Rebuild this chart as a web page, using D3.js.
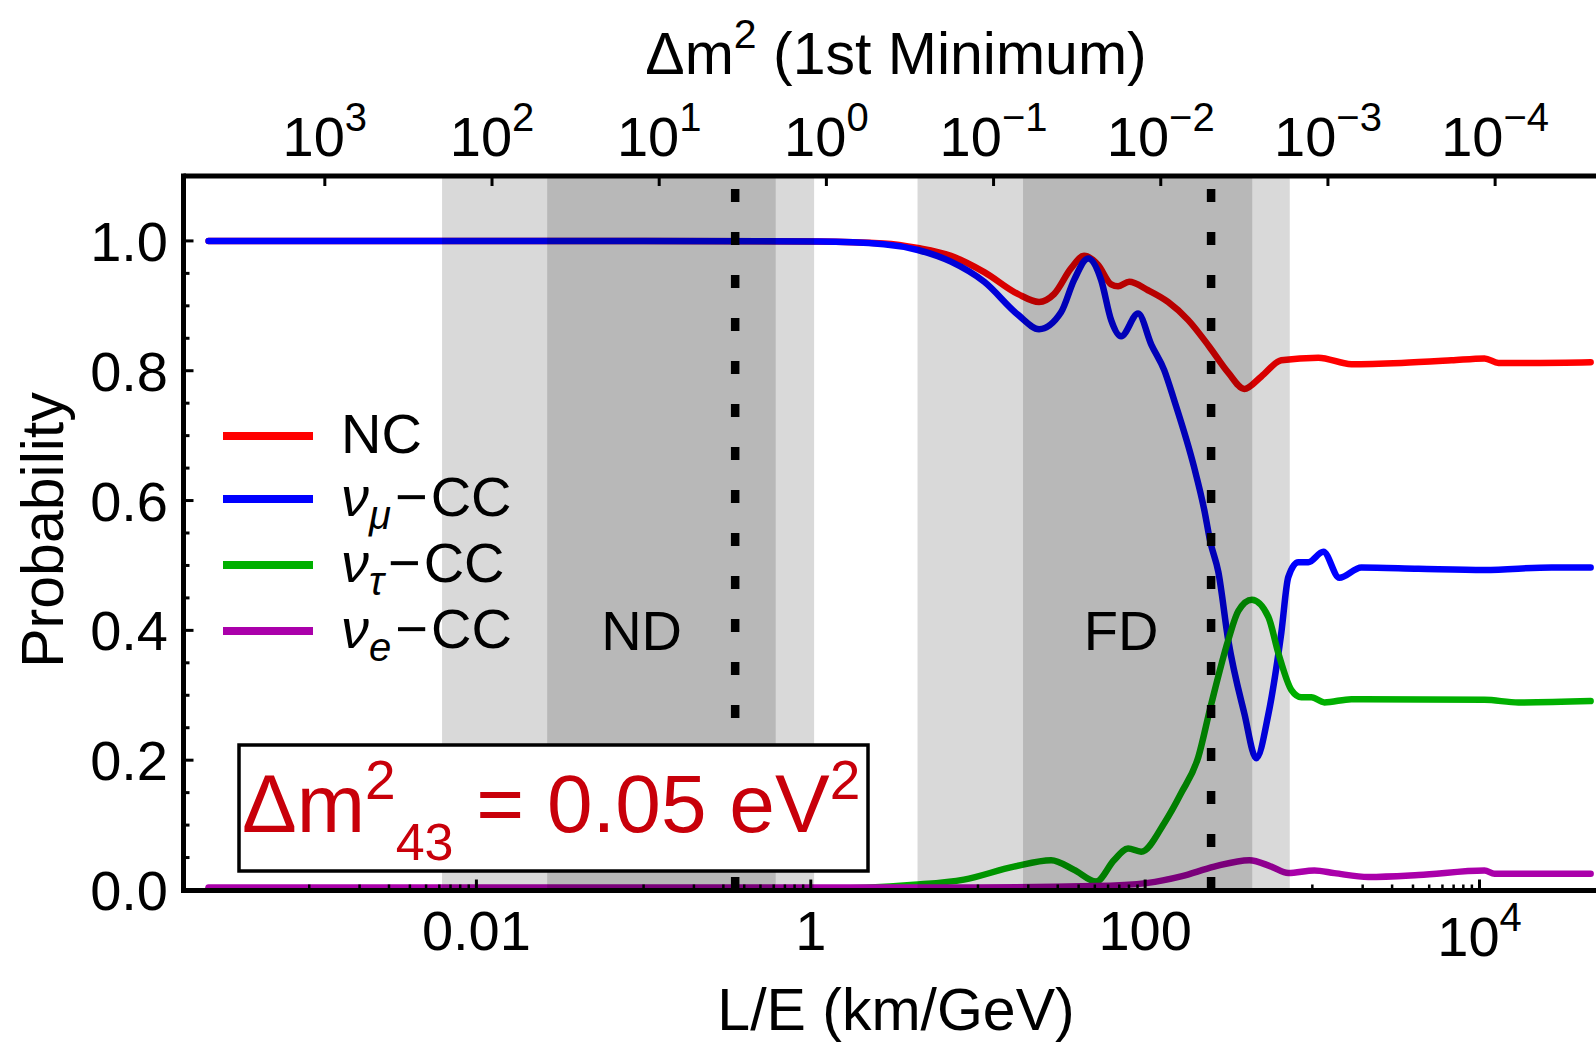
<!DOCTYPE html>
<html lang="en">
<head>
<meta charset="utf-8" />
<title>Oscillation probability vs L/E</title>
<style>
  body { margin: 0; background: #fff; }
  svg text { font-family: "Liberation Sans", Arial, sans-serif; }
</style>
</head>
<body>
<div id="chart"></div>
<script src="https://cdn.jsdelivr.net/npm/d3@7"></script>
<script type="text/javascript">
// ---- data: [L/E (km/GeV), probability] ----
var ncPts = [[2.5e-4,1.0],[0.1,1.0],[1.1,0.999],[2.74,0.996],[4.37,0.989],[6.89,0.977],[10.9,0.952],
  [17.4,0.918],[23.2,0.906],[28.5,0.918],[36.1,0.958],[43.1,0.977],[52.3,0.963],[62.6,0.933],
  [68.9,0.930],[80.2,0.937],[104,0.924],[137,0.906],[181,0.878],[242,0.837],[314,0.797],
  [392,0.772],[495,0.791],[652,0.816],[1086,0.820],[1713,0.810],[3412,0.812],[6792,0.816],
  [10710,0.819],[13000,0.812],[21400,0.812],[46200,0.813]];
var numuPts = [[2.5e-4,1.0],[0.1,1.0],[1.1,0.999],[2.74,0.995],[4.37,0.986],[6.89,0.968],[10.9,0.937],
  [17.4,0.886],[23.2,0.864],[31.4,0.890],[37.6,0.940],[45.6,0.973],[54.5,0.940],[62.6,0.878],
  [71.8,0.853],[90.8,0.888],[109,0.840],[130,0.801],[149,0.755],[196,0.652],[226,0.585],
  [245,0.537],[274,0.490],[314,0.385],[392,0.272],[462,0.203],[545,0.270],[652,0.396],
  [718,0.482],[824,0.505],[946,0.505],[1164,0.521],[1450,0.481],[1965,0.497],[4315,0.495],
  [10710,0.493],[27000,0.497],[46200,0.497]];
var nutauPts = [[2.5e-4,0.002],[1.1,0.002],[4.14,0.008],[8.24,0.016],[16.4,0.036],[27.4,0.046],
  [37.6,0.031],[50.9,0.013],[65.2,0.046],[79.1,0.064],[94.6,0.059],[130,0.103],[164,0.149],
  [208,0.205],[245,0.280],[314,0.385],[361,0.430],[435,0.447],[545,0.421],[626,0.365],
  [750,0.308],[860,0.297],[986,0.297],[1180,0.289],[1713,0.294],[10710,0.293],[17100,0.289],
  [46200,0.291]];
var nuePts = [[2.5e-4,0.004],[10,0.004],[50,0.006],[104,0.011],[164,0.021],[259,0.036],[420,0.046],
  [568,0.036],[718,0.026],[1028,0.030],[1355,0.026],[2163,0.020],[4315,0.023],[10710,0.030],
  [12300,0.025],[27000,0.025],[46200,0.025]];

var seriesNames = ["NC", "\u03bd\u03bc-CC", "\u03bd\u03c4-CC", "\u03bde-CC"];
var seriesColors = ["#ff0000", "#0000ff", "#00b000", "#aa00aa"];

// detector regions (L/E) : outer light band, inner darker band, dotted line
var bandOuter = [[0.00623, 1.047], [4.35, 733]];
var bandInner = [[0.0265, 0.617], [18.6, 437]];
var detectorLE = [0.353, 248];
var detectorNames = ["ND", "FD"];
var detectorLabelLE = [0.0973, 71.8];

var xMajor = [0.01, 1, 100, 10000];
var yMajor = [0, 0.2, 0.4, 0.6, 0.8, 1.0];
var topExp = [3, 2, 1, 0, -1, -2, -3, -4];
var firstMinK = 1.2397; // dm2 * L/E at the first minimum

// ---- layout ----
var W = 1596, H = 1044;
var pLeft = 183.5, pTop = 176, pBottom = 890.5, pRight = 1612;
var tickFont = 56, labelFont = 56, titleFont = 59;

var svg = d3.select("#chart").append("svg")
    .attr("width", W)
    .attr("height", H);

var x = d3.scaleLog().domain([1.77e-4, 6.2e4]).range([pLeft, pRight]);
var y = d3.scaleLinear().domain([0, 1.1]).range([890, pTop]);

// curves
var line = d3.line()
    .x(function(d){ return x(d[0]); })
    .y(function(d){ return y(d[1]); })
    .curve(d3.curveMonotoneX);

[ncPts, numuPts, nutauPts, nuePts].forEach(function(pts, i){
  svg.append("path")
     .attr("d", line(pts))
     .attr("fill", "none")
     .attr("stroke", seriesColors[i])
     .attr("stroke-width", 6.5)
     .attr("stroke-linejoin", "round")
     .attr("stroke-linecap", "round");
});

// shaded detector regions (drawn on top, translucent)
bandOuter.concat(bandInner).forEach(function(b){
  svg.append("rect")
     .attr("x", x(b[0]))
     .attr("y", pTop)
     .attr("width", x(b[1]) - x(b[0]))
     .attr("height", pBottom - pTop)
     .attr("fill", "#000")
     .attr("fill-opacity", 0.15);
});

// dotted detector lines
detectorLE.forEach(function(v){
  svg.append("line")
     .attr("x1", x(v)).attr("x2", x(v))
     .attr("y1", y(0)).attr("y2", pTop)
     .attr("stroke", "#000")
     .attr("stroke-width", 8.5)
     .attr("stroke-dasharray", "13,30");
});

detectorNames.forEach(function(n, i){
  svg.append("text")
     .attr("x", x(detectorLabelLE[i]))
     .attr("y", y(0.4) + 20)
     .attr("text-anchor", "middle")
     .attr("font-size", labelFont)
     .attr("fill", "#000")
     .text(n);
});

// legend
var legY = [436, 499, 565, 631];
legY.forEach(function(ly, i){
  svg.append("line")
     .attr("x1", 223).attr("x2", 313)
     .attr("y1", ly).attr("y2", ly)
     .attr("stroke", seriesColors[i])
     .attr("stroke-width", 8);
  var t = svg.append("text")
     .attr("x", 341)
     .attr("y", ly + 17)
     .attr("font-size", labelFont)
     .attr("fill", "#000");
  if (i == 0) {
    t.text(seriesNames[0]);
  } else {
    var sub = seriesNames[i].charAt(1);
    t.append("tspan").attr("font-style", "italic").text("\u03bd");
    t.append("tspan").attr("font-style", "italic").attr("font-size", 40).attr("dy", 13).text(sub);
    t.append("tspan").attr("dy", -13).attr("dx", 4).text("\u2212");
    t.append("tspan").attr("dx", 3).text("CC");
  }
});

// dm2 box
svg.append("rect")
   .attr("x", 239).attr("y", 745)
   .attr("width", 629).attr("height", 126)
   .attr("fill", "#fff")
   .attr("stroke", "#000")
   .attr("stroke-width", 3.5);
var bt = svg.append("text")
   .attr("x", 242).attr("y", 832)
   .attr("font-size", 82)
   .attr("fill", "#c8000a");
bt.append("tspan").text("\u0394m");
bt.append("tspan").attr("font-size", 55).attr("dy", -33).text("2");
bt.append("tspan").attr("font-size", 52).attr("dy", 61).text("43");
bt.append("tspan").attr("dy", -28).text(" = 0.05 eV");
bt.append("tspan").attr("font-size", 55).attr("dy", -33).text("2");

// frame
svg.append("line").attr("x1", pLeft).attr("x2", pRight).attr("y1", pTop).attr("y2", pTop)
   .attr("stroke", "#000").attr("stroke-width", 5);
svg.append("line").attr("x1", pLeft).attr("x2", pRight).attr("y1", pBottom).attr("y2", pBottom)
   .attr("stroke", "#000").attr("stroke-width", 5);
svg.append("line").attr("x1", pLeft).attr("x2", pLeft).attr("y1", pTop - 2.5).attr("y2", pBottom + 2.5)
   .attr("stroke", "#000").attr("stroke-width", 5);

// left ticks
d3.range(0, 21).map(function(i){ return i * 0.05; }).forEach(function(v){
  var major = Math.abs(v * 5 - Math.round(v * 5)) < 1e-6;
  svg.append("line")
     .attr("x1", pLeft).attr("x2", pLeft + (major ? 10 : 6))
     .attr("y1", y(v)).attr("y2", y(v))
     .attr("stroke", "#000").attr("stroke-width", 3);
});
yMajor.forEach(function(v){
  svg.append("text")
     .attr("x", 168).attr("y", y(v) + 20)
     .attr("text-anchor", "end")
     .attr("font-size", tickFont)
     .attr("fill", "#000")
     .text(d3.format(".1f")(v));
});

// bottom ticks: majors every two decades, minors in the decade below each
var xMinor = [];
[-3, -1, 1, 3].forEach(function(d){
  for (var j = 1; j < 10; j++) xMinor.push(j * Math.pow(10, d));
});
xMinor.forEach(function(v){
  svg.append("line")
     .attr("x1", x(v)).attr("x2", x(v))
     .attr("y1", pBottom).attr("y2", pBottom - 6)
     .attr("stroke", "#000").attr("stroke-width", 2.5);
});
xMajor.forEach(function(v){
  svg.append("line")
     .attr("x1", x(v)).attr("x2", x(v))
     .attr("y1", pBottom).attr("y2", pBottom - 11)
     .attr("stroke", "#000").attr("stroke-width", 3);
  var t = svg.append("text")
     .attr("x", x(v))
     .attr("text-anchor", "middle")
     .attr("font-size", tickFont)
     .attr("fill", "#000");
  if (v < 1000) {
    t.attr("y", 950).text(String(v));
  } else {
    t.attr("y", 956);
    t.append("tspan").text("10");
    t.append("tspan").attr("font-size", 40).attr("dy", -25).text(String(Math.round(Math.log10(v))));
  }
});

// top axis: dm2 of first minimum
topExp.forEach(function(e){
  var xp = x(firstMinK / Math.pow(10, e));
  svg.append("line")
     .attr("x1", xp).attr("x2", xp)
     .attr("y1", pTop).attr("y2", pTop + 10)
     .attr("stroke", "#000").attr("stroke-width", 3);
  var t = svg.append("text")
     .attr("x", xp).attr("y", 156)
     .attr("text-anchor", "middle")
     .attr("font-size", tickFont)
     .attr("fill", "#000");
  t.append("tspan").text("10");
  t.append("tspan").attr("font-size", 40).attr("dy", -25)
   .text(e < 0 ? "\u2212" + (-e) : String(e));
});

// axis titles
var tt = svg.append("text")
   .attr("x", 896).attr("y", 74)
   .attr("text-anchor", "middle")
   .attr("font-size", titleFont)
   .attr("fill", "#000");
tt.append("tspan").text("\u0394m");
tt.append("tspan").attr("font-size", 41).attr("dy", -26).text("2");
tt.append("tspan").attr("dy", 26).text(" (1st Minimum)");

svg.append("text")
   .attr("x", 896).attr("y", 1030)
   .attr("text-anchor", "middle")
   .attr("font-size", titleFont)
   .attr("fill", "#000")
   .text("L/E (km/GeV)");

svg.append("text")
   .attr("transform", "translate(63,530) rotate(-90)")
   .attr("text-anchor", "middle")
   .attr("font-size", titleFont)
   .attr("fill", "#000")
   .text("Probability");
</script>
</body>
</html>
